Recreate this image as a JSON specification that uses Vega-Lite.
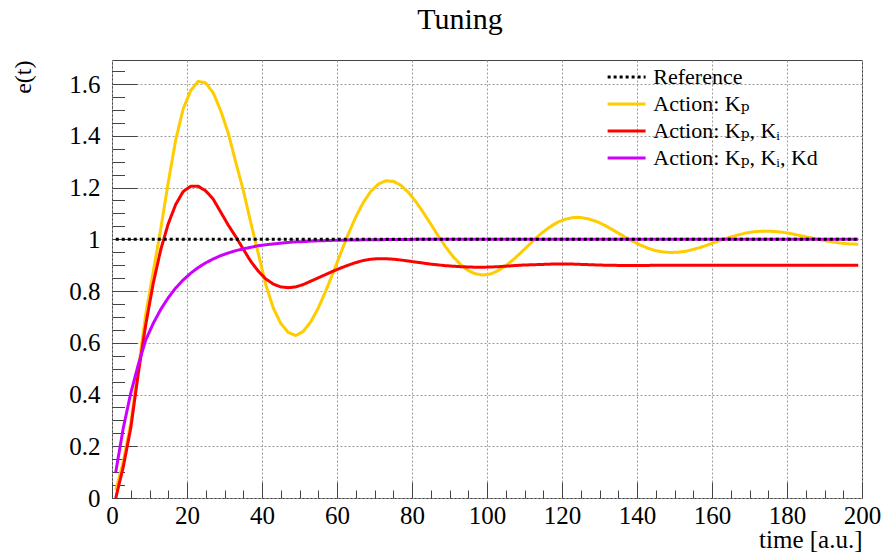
{
  "$schema": "https://vega.github.io/schema/vega-lite/v6.json",
  "width": 750,
  "height": 438,
  "autosize": {"type": "none"},
  "padding": {"left": 112, "top": 60, "right": 22, "bottom": 55},
  "background": "white",
  "title": {"text": "Tuning", "font": "Liberation Serif, Times New Roman, DejaVu Serif, serif", "fontSize": 30, "fontWeight": "normal", "color": "#000000", "anchor": "middle", "dx": -27, "dy": 26, "baseline": "alphabetic", "offset": 27},
  "config": {
    "view": {"stroke": "#444444", "strokeWidth": 1},
    "font": "Liberation Serif, Times New Roman, DejaVu Serif, serif"
  },
  "datasets": {
    "curves": [
      {"t": 1, "kp": 0.03, "kpki": 0.0, "kpkikd": 0.1},
      {"t": 3, "kp": 0.14, "kpki": 0.12, "kpkikd": 0.27},
      {"t": 5, "kp": 0.29, "kpki": 0.27, "kpkikd": 0.405},
      {"t": 7, "kp": 0.5, "kpki": 0.48, "kpkikd": 0.515},
      {"t": 9, "kp": 0.71, "kpki": 0.67, "kpkikd": 0.611},
      {"t": 11, "kp": 0.875, "kpki": 0.83, "kpkikd": 0.675},
      {"t": 13, "kp": 1.04, "kpki": 0.96, "kpkikd": 0.729},
      {"t": 15, "kp": 1.22, "kpki": 1.06, "kpkikd": 0.774},
      {"t": 17, "kp": 1.385, "kpki": 1.135, "kpkikd": 0.812},
      {"t": 19, "kp": 1.505, "kpki": 1.185, "kpkikd": 0.843},
      {"t": 21, "kp": 1.575, "kpki": 1.205, "kpkikd": 0.869},
      {"t": 23, "kp": 1.611, "kpki": 1.205, "kpkikd": 0.891},
      {"t": 25, "kp": 1.604, "kpki": 1.187, "kpkikd": 0.909},
      {"t": 27, "kp": 1.566, "kpki": 1.155, "kpkikd": 0.924},
      {"t": 29, "kp": 1.497, "kpki": 1.105, "kpkikd": 0.937},
      {"t": 31, "kp": 1.41, "kpki": 1.055, "kpkikd": 0.947},
      {"t": 33, "kp": 1.298, "kpki": 1.01, "kpkikd": 0.956},
      {"t": 35, "kp": 1.19, "kpki": 0.962, "kpkikd": 0.963},
      {"t": 37, "kp": 1.065, "kpki": 0.915, "kpkikd": 0.969},
      {"t": 39, "kp": 0.945, "kpki": 0.877, "kpkikd": 0.975},
      {"t": 41, "kp": 0.825, "kpki": 0.847, "kpkikd": 0.979},
      {"t": 43, "kp": 0.735, "kpki": 0.827, "kpkikd": 0.982},
      {"t": 45, "kp": 0.675, "kpki": 0.816, "kpkikd": 0.985},
      {"t": 47, "kp": 0.64, "kpki": 0.813, "kpkikd": 0.988},
      {"t": 49, "kp": 0.628, "kpki": 0.816, "kpkikd": 0.99},
      {"t": 51, "kp": 0.644, "kpki": 0.825, "kpkikd": 0.991},
      {"t": 53, "kp": 0.681, "kpki": 0.838, "kpkikd": 0.993},
      {"t": 55, "kp": 0.734, "kpki": 0.851, "kpkikd": 0.994},
      {"t": 57, "kp": 0.8, "kpki": 0.864, "kpkikd": 0.995},
      {"t": 59, "kp": 0.872, "kpki": 0.877, "kpkikd": 0.996},
      {"t": 61, "kp": 0.947, "kpki": 0.889, "kpkikd": 0.996},
      {"t": 63, "kp": 1.02, "kpki": 0.9, "kpkikd": 0.997},
      {"t": 65, "kp": 1.086, "kpki": 0.91, "kpkikd": 0.997},
      {"t": 67, "kp": 1.142, "kpki": 0.918, "kpkikd": 0.998},
      {"t": 69, "kp": 1.185, "kpki": 0.923, "kpkikd": 0.998},
      {"t": 71, "kp": 1.213, "kpki": 0.925, "kpkikd": 0.998},
      {"t": 73, "kp": 1.226, "kpki": 0.925, "kpkikd": 0.999},
      {"t": 75, "kp": 1.224, "kpki": 0.923, "kpkikd": 0.999},
      {"t": 77, "kp": 1.209, "kpki": 0.92, "kpkikd": 0.999},
      {"t": 79, "kp": 1.182, "kpki": 0.916, "kpkikd": 0.999},
      {"t": 81, "kp": 1.146, "kpki": 0.912, "kpkikd": 1.0},
      {"t": 83, "kp": 1.104, "kpki": 0.908, "kpkikd": 1.0},
      {"t": 85, "kp": 1.059, "kpki": 0.904, "kpkikd": 1.0},
      {"t": 87, "kp": 1.013, "kpki": 0.901, "kpkikd": 1.0},
      {"t": 89, "kp": 0.97, "kpki": 0.898, "kpkikd": 1.0},
      {"t": 91, "kp": 0.932, "kpki": 0.896, "kpkikd": 1.0},
      {"t": 93, "kp": 0.902, "kpki": 0.894, "kpkikd": 1.0},
      {"t": 95, "kp": 0.879, "kpki": 0.893, "kpkikd": 1.0},
      {"t": 97, "kp": 0.866, "kpki": 0.892, "kpkikd": 1.0},
      {"t": 99, "kp": 0.862, "kpki": 0.892, "kpkikd": 1.0},
      {"t": 101, "kp": 0.866, "kpki": 0.893, "kpkikd": 1.0},
      {"t": 103, "kp": 0.879, "kpki": 0.894, "kpkikd": 1.0},
      {"t": 105, "kp": 0.898, "kpki": 0.896, "kpkikd": 1.0},
      {"t": 107, "kp": 0.921, "kpki": 0.898, "kpkikd": 1.0},
      {"t": 109, "kp": 0.948, "kpki": 0.9, "kpkikd": 1.0},
      {"t": 111, "kp": 0.976, "kpki": 0.901, "kpkikd": 1.0},
      {"t": 113, "kp": 1.004, "kpki": 0.902, "kpkikd": 1.0},
      {"t": 115, "kp": 1.029, "kpki": 0.903, "kpkikd": 1.0},
      {"t": 117, "kp": 1.05, "kpki": 0.904, "kpkikd": 1.0},
      {"t": 119, "kp": 1.067, "kpki": 0.904, "kpkikd": 1.0},
      {"t": 121, "kp": 1.078, "kpki": 0.904, "kpkikd": 1.0},
      {"t": 123, "kp": 1.084, "kpki": 0.904, "kpkikd": 1.0},
      {"t": 125, "kp": 1.084, "kpki": 0.903, "kpkikd": 1.0},
      {"t": 127, "kp": 1.079, "kpki": 0.902, "kpkikd": 1.0},
      {"t": 129, "kp": 1.07, "kpki": 0.901, "kpkikd": 1.0},
      {"t": 131, "kp": 1.057, "kpki": 0.9, "kpkikd": 1.0},
      {"t": 133, "kp": 1.041, "kpki": 0.9, "kpkikd": 1.0},
      {"t": 135, "kp": 1.024, "kpki": 0.899, "kpkikd": 1.0},
      {"t": 137, "kp": 1.007, "kpki": 0.899, "kpkikd": 1.0},
      {"t": 139, "kp": 0.991, "kpki": 0.899, "kpkikd": 1.0},
      {"t": 141, "kp": 0.977, "kpki": 0.899, "kpkikd": 1.0},
      {"t": 143, "kp": 0.965, "kpki": 0.899, "kpkikd": 1.0},
      {"t": 145, "kp": 0.956, "kpki": 0.9, "kpkikd": 1.0},
      {"t": 147, "kp": 0.951, "kpki": 0.9, "kpkikd": 1.0},
      {"t": 149, "kp": 0.949, "kpki": 0.9, "kpkikd": 1.0},
      {"t": 151, "kp": 0.95, "kpki": 0.9, "kpkikd": 1.0},
      {"t": 153, "kp": 0.954, "kpki": 0.9, "kpkikd": 1.0},
      {"t": 155, "kp": 0.961, "kpki": 0.9, "kpkikd": 1.0},
      {"t": 157, "kp": 0.969, "kpki": 0.9, "kpkikd": 1.0},
      {"t": 159, "kp": 0.979, "kpki": 0.9, "kpkikd": 1.0},
      {"t": 161, "kp": 0.99, "kpki": 0.9, "kpkikd": 1.0},
      {"t": 163, "kp": 1.0, "kpki": 0.9, "kpkikd": 1.0},
      {"t": 165, "kp": 1.009, "kpki": 0.9, "kpkikd": 1.0},
      {"t": 167, "kp": 1.017, "kpki": 0.9, "kpkikd": 1.0},
      {"t": 169, "kp": 1.024, "kpki": 0.9, "kpkikd": 1.0},
      {"t": 171, "kp": 1.029, "kpki": 0.9, "kpkikd": 1.0},
      {"t": 173, "kp": 1.031, "kpki": 0.9, "kpkikd": 1.0},
      {"t": 175, "kp": 1.031, "kpki": 0.9, "kpkikd": 1.0},
      {"t": 177, "kp": 1.03, "kpki": 0.9, "kpkikd": 1.0},
      {"t": 179, "kp": 1.027, "kpki": 0.9, "kpkikd": 1.0},
      {"t": 181, "kp": 1.022, "kpki": 0.9, "kpkikd": 1.0},
      {"t": 183, "kp": 1.016, "kpki": 0.9, "kpkikd": 1.0},
      {"t": 185, "kp": 1.01, "kpki": 0.9, "kpkikd": 1.0},
      {"t": 187, "kp": 1.004, "kpki": 0.9, "kpkikd": 1.0},
      {"t": 189, "kp": 0.998, "kpki": 0.9, "kpkikd": 1.0},
      {"t": 191, "kp": 0.992, "kpki": 0.9, "kpkikd": 1.0},
      {"t": 193, "kp": 0.988, "kpki": 0.9, "kpkikd": 1.0},
      {"t": 195, "kp": 0.984, "kpki": 0.9, "kpkikd": 1.0},
      {"t": 197, "kp": 0.982, "kpki": 0.9, "kpkikd": 1.0},
      {"t": 199, "kp": 0.981, "kpki": 0.9, "kpkikd": 1.0}
    ],
    "reference": [
      {"t": 1, "e": 1, "series": "ref"},
      {"t": 199, "e": 1, "series": "ref"}
    ]
  },
  "layer": [
    {
      "data": {"name": "curves"},
      "transform": [{"fold": ["kp", "kpki", "kpkikd"], "as": ["series", "e"]}],
      "mark": {"type": "line", "strokeWidth": 3, "strokeCap": "butt", "strokeJoin": "round"},
      "encoding": {
        "x": {
          "field": "t", "type": "quantitative",
          "scale": {"domain": [0, 200], "nice": false, "zero": false},
          "axis": {
            "orient": "bottom",
            "values": [0, 20, 40, 60, 80, 100, 120, 140, 160, 180, 200],
            "format": "d",
            "domain": false,
            "tickSize": -16, "tickColor": "#444444", "tickWidth": 1,
            "grid": true, "gridColor": "#9a9a9a", "gridDash": [2, 2], "gridWidth": 1,
            "labelFont": "Liberation Serif, Times New Roman, DejaVu Serif, serif", "labelFontSize": 25, "labelColor": "#000000",
            "labelPadding": 21, "labelFlush": false, "labelOverlap": false, "labelBound": false,
            "title": "time [a.u.]",
            "titleFont": "Liberation Serif, Times New Roman, DejaVu Serif, serif", "titleFontSize": 25, "titleFontWeight": "normal", "titleColor": "#000000",
            "titleAnchor": "end", "titleAlign": "right", "titleBaseline": "alphabetic",
            "titleX": 750, "titleY": 49
          }
        },
        "y": {
          "field": "e", "type": "quantitative",
          "scale": {"domain": [0, 1.693], "nice": false, "zero": false},
          "axis": {
            "orient": "left",
            "values": [0, 0.2, 0.4, 0.6, 0.8, 1, 1.2, 1.4, 1.6],
            "format": ".1~f",
            "domain": false,
            "tickSize": -25, "tickColor": "#444444", "tickWidth": 1,
            "grid": true, "gridColor": "#9a9a9a", "gridDash": [2, 2], "gridWidth": 1,
            "labelFont": "Liberation Serif, Times New Roman, DejaVu Serif, serif", "labelFontSize": 25, "labelColor": "#000000",
            "labelPadding": 37, "labelFlush": false, "labelOverlap": false, "labelBound": false,
            "title": "e(t)",
            "titleFont": "Liberation Serif, Times New Roman, DejaVu Serif, serif", "titleFontSize": 24, "titleFontWeight": "normal", "titleColor": "#000000",
            "titleAngle": 270, "titleAnchor": "end", "titleAlign": "right", "titleBaseline": "alphabetic",
            "titleX": -82, "titleY": 0
          }
        },
        "color": {
          "field": "series", "type": "nominal",
          "scale": {"domain": ["ref", "kp", "kpki", "kpkikd"], "range": ["#000000", "#FFCC00", "#FF0000", "#CC00FF"]},
          "legend": {
            "orient": "none", "legendX": 503.6, "legendY": 6, "title": null, "padding": 0,
            "symbolType": "M-3,0H3", "symbolSize": 160, "symbolStrokeWidth": 3,
            "labelFont": "Liberation Serif, Times New Roman, DejaVu Serif, serif", "labelFontSize": 22, "labelColor": "#000000", "labelOffset": 15.7,
            "labelLimit": 400, "rowPadding": 5,
            "labelExpr": "datum.label == 'ref' ? 'Reference' : datum.label == 'kp' ? 'Action: Kₚ' : datum.label == 'kpki' ? 'Action: Kₚ, Kᵢ' : 'Action: Kₚ, Kᵢ, Kd'"
          }
        },
        "strokeDash": {
          "field": "series", "type": "nominal",
          "scale": {"domain": ["ref", "kp", "kpki", "kpkikd"], "range": [[3, 3], [1, 0], [1, 0], [1, 0]]},
          "legend": {
            "orient": "none", "legendX": 503.6, "legendY": 6, "title": null, "padding": 0,
            "symbolType": "M-3,0H3", "symbolSize": 160, "symbolStrokeWidth": 3,
            "labelFont": "Liberation Serif, Times New Roman, DejaVu Serif, serif", "labelFontSize": 22, "labelColor": "#000000", "labelOffset": 15.7,
            "labelLimit": 400, "rowPadding": 5,
            "labelExpr": "datum.label == 'ref' ? 'Reference' : datum.label == 'kp' ? 'Action: Kₚ' : datum.label == 'kpki' ? 'Action: Kₚ, Kᵢ' : 'Action: Kₚ, Kᵢ, Kd'"
          }
        }
      }
    },
    {
      "data": {"name": "reference"},
      "mark": {"type": "line", "strokeWidth": 3, "strokeCap": "butt"},
      "encoding": {
        "x": {
          "field": "t", "type": "quantitative",
          "axis": {
            "orient": "bottom",
            "values": [0, 5, 10, 15, 20, 25, 30, 35, 40, 45, 50, 55, 60, 65, 70, 75, 80, 85, 90, 95, 100, 105, 110, 115, 120, 125, 130, 135, 140, 145, 150, 155, 160, 165, 170, 175, 180, 185, 190, 195, 200],
            "domain": false, "labels": false, "grid": false, "title": null,
            "tickSize": -8, "tickColor": "#444444", "tickWidth": 1
          }
        },
        "y": {
          "field": "e", "type": "quantitative",
          "axis": {
            "orient": "left",
            "values": [0, 0.05, 0.1, 0.15, 0.2, 0.25, 0.3, 0.35, 0.4, 0.45, 0.5, 0.55, 0.6, 0.65, 0.7, 0.75, 0.8, 0.85, 0.9, 0.95, 1, 1.05, 1.1, 1.15, 1.2, 1.25, 1.3, 1.35, 1.4, 1.45, 1.5, 1.55, 1.6, 1.65],
            "domain": false, "labels": false, "grid": false, "title": null,
            "tickSize": -12.5, "tickColor": "#444444", "tickWidth": 1
          }
        },
        "color": {"field": "series", "type": "nominal"},
        "strokeDash": {"field": "series", "type": "nominal"}
      }
    }
  ],
  "resolve": {"axis": {"x": "independent", "y": "independent"}}
}
